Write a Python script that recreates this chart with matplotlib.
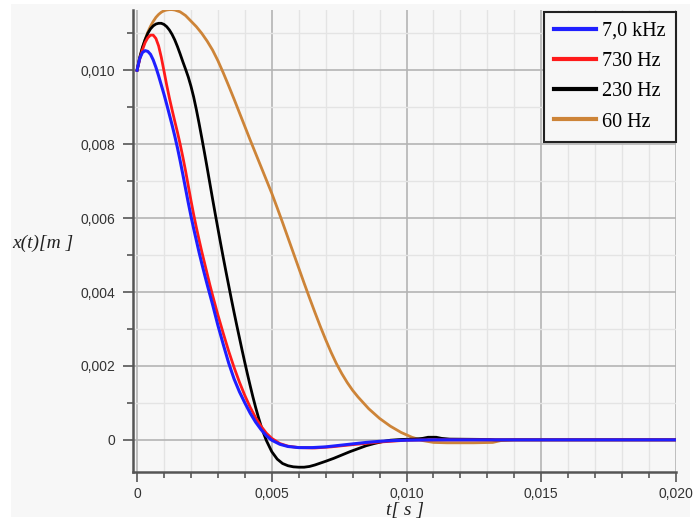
import matplotlib
matplotlib.use('Agg')
import matplotlib.pyplot as plt
from matplotlib.patches import Rectangle
from matplotlib.ticker import MultipleLocator, FuncFormatter


# Zeitverläufe x(t) für verschiedene Frequenzen
t_blau = [0.0000, 0.0001, 0.0002, 0.0003, 0.0004, 0.0005, 0.0006, 0.0007, 0.0008,
          0.0009, 0.0010, 0.0011, 0.0012, 0.0013, 0.0014, 0.0015, 0.0016, 0.0017,
          0.0018, 0.0019, 0.0020, 0.0021, 0.0022, 0.0023, 0.0024, 0.0025, 0.0026,
          0.0027, 0.0028, 0.0030, 0.0032, 0.0034, 0.0036, 0.0038, 0.0040, 0.0042,
          0.0044, 0.0046, 0.0048, 0.0050, 0.0053, 0.0056, 0.0060, 0.0065, 0.0070,
          0.0075, 0.0080, 0.0085, 0.0090, 0.0095, 0.0100, 0.0110, 0.0200]
x_blau = [0.01000, 0.01032, 0.01048, 0.01053, 0.01051, 0.01043, 0.01028, 0.01008, 0.00985,
          0.00960, 0.00935, 0.00908, 0.00880, 0.00852, 0.00822, 0.00790, 0.00755, 0.00718,
          0.00680, 0.00642, 0.00606, 0.00572, 0.00540, 0.00508, 0.00478, 0.00449, 0.00421,
          0.00394, 0.00367, 0.00310, 0.00258, 0.00208, 0.00165, 0.00130, 0.00100, 0.00072,
          0.00048, 0.00028, 0.00011, -0.00001, -0.00012, -0.00018, -0.00021, -0.00021, -0.00019,
          -0.00015, -0.00011, -0.00007, -0.00004, -0.00002, -0.00001, 0.00000, 0.00000]

t_rot = [0.0000, 0.0001, 0.0002, 0.0003, 0.0004, 0.0005, 0.0006, 0.0007, 0.0008,
         0.0009, 0.0010, 0.0011, 0.0012, 0.0013, 0.0014, 0.0015, 0.0016, 0.0017,
         0.0018, 0.0019, 0.0020, 0.0021, 0.0022, 0.0023, 0.0024, 0.0025, 0.0026,
         0.0027, 0.0028, 0.0030, 0.0032, 0.0034, 0.0036, 0.0038, 0.0040, 0.0042,
         0.0044, 0.0046, 0.0048, 0.0050, 0.0053, 0.0056, 0.0060, 0.0066, 0.0072,
         0.0080, 0.0090, 0.0100, 0.0110, 0.0200]
x_rot = [0.01000, 0.01030, 0.01055, 0.01075, 0.01088, 0.01095, 0.01095, 0.01086, 0.01066,
         0.01035, 0.00998, 0.00960, 0.00925, 0.00893, 0.00862, 0.00832, 0.00800, 0.00765,
         0.00728, 0.00688, 0.00648, 0.00610, 0.00575, 0.00542, 0.00510, 0.00480, 0.00450,
         0.00420, 0.00392, 0.00338, 0.00288, 0.00240, 0.00196, 0.00156, 0.00120, 0.00088,
         0.00060, 0.00037, 0.00018, 0.00004, -0.00010, -0.00017, -0.00021, -0.00022, -0.00019,
         -0.00013, -0.00006, -0.00001, 0.00000, 0.00000]

t_schwarz = [0.0000, 0.0001, 0.0002, 0.0003, 0.0004, 0.0005, 0.0006, 0.0007, 0.0008,
             0.0009, 0.0010, 0.0011, 0.0012, 0.0013, 0.0014, 0.0015, 0.0016, 0.0017,
             0.0018, 0.0019, 0.0020, 0.0021, 0.0022, 0.0023, 0.0024, 0.0025, 0.0026,
             0.0027, 0.0028, 0.0029, 0.0030, 0.0031, 0.0032, 0.0033, 0.0034, 0.0035,
             0.0036, 0.0037, 0.0038, 0.0039, 0.0040, 0.0041, 0.0042, 0.0043, 0.0044,
             0.0045, 0.0046, 0.0047, 0.0048, 0.0050, 0.0052, 0.0054, 0.0056, 0.0058,
             0.0060, 0.0062, 0.0064, 0.0066, 0.0068, 0.0070, 0.0073, 0.0076, 0.0079,
             0.0082, 0.0085, 0.0088, 0.0091, 0.0094, 0.0098, 0.0103, 0.0106, 0.0108,
             0.0111, 0.0113, 0.0116, 0.0131, 0.0133, 0.0200]
x_schwarz = [0.01000, 0.01035, 0.01062, 0.01083, 0.01100, 0.01112, 0.01120, 0.01125, 0.01127,
             0.01127, 0.01124, 0.01118, 0.01109, 0.01097, 0.01082, 0.01064, 0.01044, 0.01023,
             0.01003, 0.00982, 0.00957, 0.00928, 0.00894, 0.00857, 0.00818, 0.00778, 0.00737,
             0.00695, 0.00653, 0.00612, 0.00572, 0.00532, 0.00493, 0.00455, 0.00418, 0.00381,
             0.00345, 0.00310, 0.00276, 0.00242, 0.00209, 0.00177, 0.00146, 0.00116, 0.00088,
             0.00062, 0.00038, 0.00017, -0.00002, -0.00032, -0.00052, -0.00064, -0.00070, -0.00073,
             -0.00074, -0.00074, -0.00072, -0.00068, -0.00063, -0.00058, -0.00050, -0.00041, -0.00032,
             -0.00024, -0.00016, -0.00010, -0.00005, -0.00001, 0.00001, 0.00002, 0.00004, 0.00007,
             0.00007, 0.00004, 0.00002, 0.00001, 0.00000, 0.00000]

t_orange = [0.0000, 0.0001, 0.0002, 0.0003, 0.0004, 0.0005, 0.0006, 0.0007, 0.0008,
            0.0009, 0.0010, 0.0011, 0.0012, 0.0013, 0.0014, 0.0016, 0.0018, 0.0020,
            0.0022, 0.0024, 0.0026, 0.0028, 0.0030, 0.0032, 0.0034, 0.0036, 0.0038,
            0.0040, 0.0042, 0.0044, 0.0046, 0.0048, 0.0050, 0.0052, 0.0054, 0.0056,
            0.0058, 0.0060, 0.0062, 0.0064, 0.0066, 0.0068, 0.0070, 0.0072, 0.0074,
            0.0076, 0.0078, 0.0080, 0.0082, 0.0086, 0.0090, 0.0094, 0.0098, 0.0102,
            0.0106, 0.0110, 0.0115, 0.0125, 0.0132, 0.0135, 0.0140, 0.0200]
x_orange = [0.01000, 0.01032, 0.01060, 0.01083, 0.01103, 0.01119, 0.01132, 0.01143, 0.01151,
            0.01157, 0.01161, 0.01163, 0.01164, 0.01164, 0.01163, 0.01158, 0.01148, 0.01133,
            0.01118, 0.01100, 0.01079, 0.01055, 0.01026, 0.00993, 0.00958, 0.00922, 0.00885,
            0.00848, 0.00811, 0.00775, 0.00739, 0.00703, 0.00667, 0.00628, 0.00588, 0.00547,
            0.00506, 0.00465, 0.00424, 0.00384, 0.00345, 0.00307, 0.00271, 0.00237, 0.00206,
            0.00179, 0.00155, 0.00134, 0.00116, 0.00084, 0.00058, 0.00037, 0.00020, 0.00007,
            -0.00002, -0.00007, -0.00008, -0.00008, -0.00007, -0.00002, 0.00000, 0.00000]

labels = ['7,0 kHz', '730 Hz', '230 Hz', '60 Hz']
farben = ['#1f1fff', '#ff1a1a', '#000000', '#cd8438']

hg = '#f7f7f7'

fig = plt.figure(figsize=(6.94, 5.21), dpi=100)
fig.patch.set_facecolor('white')
fig.patches.append(Rectangle((11 / 694, 1 - 517 / 521), 679 / 694, 513 / 521,
                             transform=fig.transFigure, facecolor=hg, edgecolor='none', zorder=-10))

ax = fig.add_axes([133 / 694, 1 - 472 / 521, 543 / 694, 462 / 521])
ax.set_facecolor(hg)

l_or, = ax.plot(t_orange, x_orange, color=farben[3], lw=2.0, label=labels[3], zorder=3)
l_sw, = ax.plot(t_schwarz, x_schwarz, color=farben[2], lw=2.0, label=labels[2], zorder=4)
l_rt, = ax.plot(t_rot, x_rot, color=farben[1], lw=2.0, label=labels[1], zorder=5)
l_bl, = ax.plot(t_blau, x_blau, color=farben[0], lw=2.2, label=labels[0], zorder=6)

ax.set_xlim(-0.00015, 0.0200)
ax.set_ylim(-0.00087, 0.01163)

ax.xaxis.set_major_locator(MultipleLocator(0.005))
ax.xaxis.set_minor_locator(MultipleLocator(0.001))
ax.yaxis.set_major_locator(MultipleLocator(0.002))
ax.yaxis.set_minor_locator(MultipleLocator(0.001))


def komma(v, pos):
    if abs(v) < 1e-12:
        return '0'
    return ('%.3f' % v).replace('.', ',')


ax.xaxis.set_major_formatter(FuncFormatter(komma))
ax.yaxis.set_major_formatter(FuncFormatter(komma))

ax.grid(which='major', color='#b4b4b4', lw=1.2)
ax.grid(which='minor', color='#e4e4e4', lw=1.0)
ax.set_axisbelow(True)

for s in ['top', 'right']:
    ax.spines[s].set_visible(False)
for s in ['left', 'bottom']:
    ax.spines[s].set_color('#555555')
    ax.spines[s].set_linewidth(1.8)

ax.tick_params(which='major', length=7, width=1.2, color='#555555',
               labelsize=10, labelcolor='#333333')
ax.tick_params(axis='x', which='major', pad=4)
ax.tick_params(axis='y', which='major', pad=6)
ax.tick_params(which='minor', length=4, width=1.2, color='#555555')
for lab in ax.get_xticklabels() + ax.get_yticklabels():
    lab.set_family('Liberation Sans')

# Achsenbeschriftungen
fig.text(12 / 694, 1 - 243 / 521, 'x(t)[m ]', family='Liberation Serif', style='italic',
         fontsize=14, ha='left', va='center', color='#222222')
fig.text(405 / 694, 1 - 510 / 521, 't[ s ]', family='Liberation Serif', style='italic',
         fontsize=14, ha='center', va='center', color='#222222')

leg = ax.legend(handles=[l_bl, l_rt, l_sw, l_or], loc='upper right',
                bbox_to_anchor=(1.0, 0.996), borderaxespad=0, fancybox=False,
                prop={'family': 'Liberation Serif', 'size': 14.5},
                handlelength=2.1, handletextpad=0.3, labelspacing=0.55,
                borderpad=0.5, framealpha=1)
leg.get_frame().set_edgecolor('#222222')
leg.get_frame().set_linewidth(1.5)
leg.get_frame().set_facecolor(hg)
for ln in leg.get_lines():
    ln.set_linewidth(3.0)

fig.savefig('out.png', dpi=100)
